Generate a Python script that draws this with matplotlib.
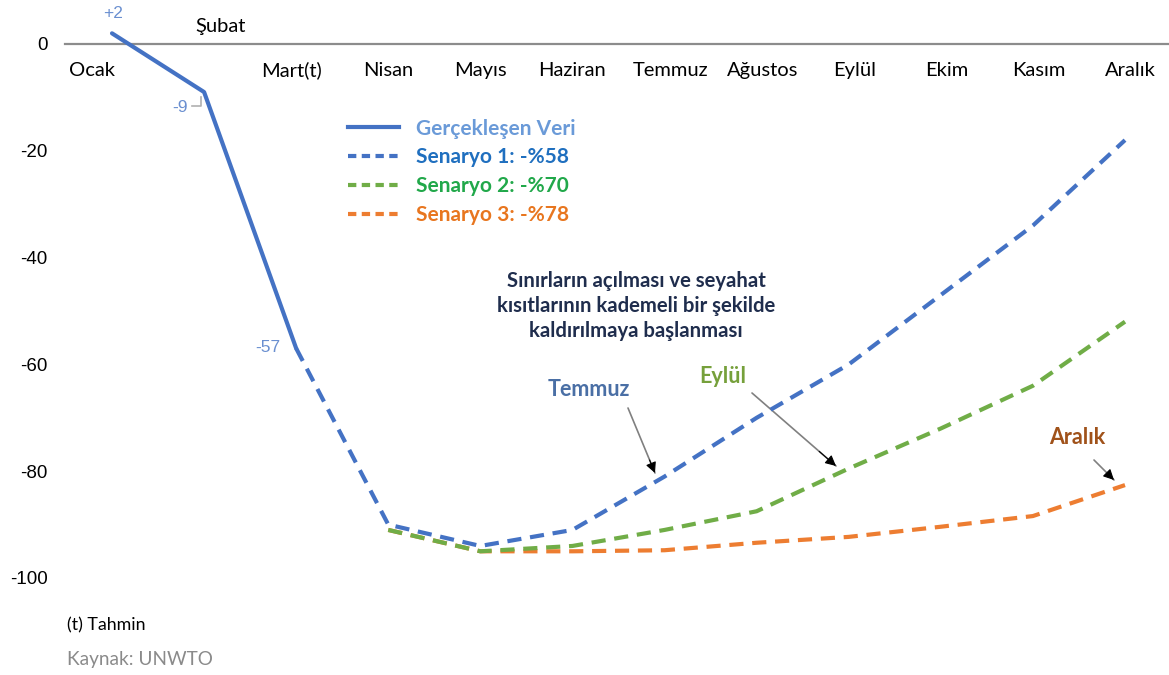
import matplotlib
matplotlib.use("Agg")
import matplotlib.pyplot as plt
from matplotlib.lines import Line2D

months = ["Ocak", "Şubat", "Mart(t)", "Nisan", "Mayıs", "Haziran", "Temmuz",
          "Ağustos", "Eylül", "Ekim", "Kasım", "Aralık"]
actual = [2, -9, -57]
scenario1 = [-57, -90, -94, -91, -81, -70, -60, -47, -34, -18]   # Mart..Aralık
scenario2 = [-91, -95, -94, -91, -87.5, -79.5, -72, -64, -52]     # Nisan..Aralık
scenario3 = [-91, -95, -95, -94.8, -93.4, -92.3, -90.4, -88.4, -82.6]  # Nisan..Aralık
yticks = [0, -20, -40, -60, -80, -100]
legend_labels = ["Gerçekleşen Veri", "Senaryo 1: -%58", "Senaryo 2: -%70", "Senaryo 3: -%78"]

W, H = 1169, 675
fig = plt.figure(figsize=(W / 100, H / 100), dpi=100)
ax_left = 60
ax = fig.add_axes([ax_left / W, 0, 1 - ax_left / W, 1])

px_per_x = (1125 - 112) / 11.0
px_per_y = 5.34
x0_px, y0_px = 112, 44
ax.set_xlim((ax_left - x0_px) / px_per_x, (W - x0_px) / px_per_x)
ax.set_ylim(-(H - y0_px) / px_per_y, y0_px / px_per_y)


def P(x, y):
    """pixel position (from top-left) -> data coords, for annotation placement"""
    return ((x - x0_px) / px_per_x, -(y - y0_px) / px_per_y)


for s in ax.spines.values():
    s.set_visible(False)
ax.set_xticks([])
ax.set_yticks(yticks)
ax.set_yticklabels([str(v) for v in yticks], fontfamily="Liberation Sans", fontsize=13.5)
ax.tick_params(axis="y", length=0, pad=9)

# zero line
ax.plot([P(65, 0)[0], P(W, 0)[0]], [0, 0], color="#8c8c8c", lw=1.6, zorder=1)

blue, green, orange = "#4472C4", "#70AD47", "#ED7D31"
lw = 3.0
dash = (0, (3.4, 2.1))
ax.plot(range(3, 12), scenario3, color=orange, lw=lw, linestyle=dash, zorder=2)
ax.plot(range(3, 12), scenario2, color=green, lw=lw, linestyle=dash, zorder=3)
ax.plot(range(2, 12), scenario1, color=blue, lw=lw, linestyle=dash, zorder=4)
ax.plot(range(0, 3), actual, color=blue, lw=lw, solid_capstyle="round", zorder=5)

# month labels
font = "Lato"
mfs = 14.5
for i, m in enumerate(months):
    if i == 0:
        ax.text(i - 0.22, -4.9, m, ha="center", va="center", fontsize=mfs, family=font)
    elif i == 1:
        ax.text(i + 0.18, 3.3, m, ha="center", va="center", fontsize=mfs, family=font)
    elif i == 2:
        ax.text(i - 0.05, -4.9, m, ha="center", va="center", fontsize=mfs, family=font)
    else:
        ax.text(i + 0.06 * (i >= 6), -4.9, m, ha="center", va="center", fontsize=mfs, family=font)

# data labels
lblc = "#6a8fd0"
dfs = 12.5
ax.text(*P(113, 13), "+2", ha="center", va="center", fontsize=dfs, color=lblc, family="Liberation Sans")
ax.text(*P(180, 108), "-9", ha="center", va="center", fontsize=dfs, color=lblc, family="Liberation Sans")
cx = [P(192, 0)[0], P(201, 0)[0], P(201, 0)[0]]
cy = [P(0, 106)[1], P(0, 106)[1], P(0, 97)[1]]
ax.plot(cx, cy, color="#b0b0b0", lw=1.2)
ax.text(*P(268, 348), "-57", ha="center", va="center", fontsize=dfs, color=lblc, family="Liberation Sans")

# legend
ldash = (0, (2.0, 1.3))
handles = [Line2D([], [], color=blue, lw=lw),
           Line2D([], [], color=blue, lw=lw, linestyle=ldash),
           Line2D([], [], color=green, lw=lw, linestyle=ldash),
           Line2D([], [], color=orange, lw=lw, linestyle=ldash)]
leg = ax.legend(handles, legend_labels, loc="upper left",
                bbox_to_anchor=(333 / W, 1 - 104 / H), bbox_transform=fig.transFigure,
                frameon=False, handlelength=2.45, handletextpad=0.85, labelspacing=0.42,
                borderpad=0.2,
                prop={"family": font, "weight": "bold", "size": 15})
for t, c in zip(leg.get_texts(), ["#6a9ad8", "#1f6fbf", "#21a84a", "#e8761f"]):
    t.set_color(c)

# annotation
afs = 14.6
ax.text(*P(636, 306), "Sınırların açılması ve seyahat\nkısıtlarının kademeli bir şekilde\nkaldırılmaya başlanması",
        ha="center", va="center", fontsize=afs, fontweight="bold", color="#1f2d4d",
        family=font, linespacing=1.3)

lfs = 15.5


def arrow(p0, p1):
    (x0, y0), (x1, y1) = P(*p0), P(*p1)
    ax.annotate("", xy=(x1, y1), xytext=(x0, y0),
                arrowprops=dict(arrowstyle="-", color="#808080", lw=1.2, shrinkA=0, shrinkB=0))
    f = 0.8
    ax.annotate("", xy=(x1, y1), xytext=(x0 + f * (x1 - x0), y0 + f * (y1 - y0)),
                arrowprops=dict(arrowstyle="-|>", color="black", lw=0.8, mutation_scale=16,
                                shrinkA=0, shrinkB=0))


ax.text(*P(589, 390), "Temmuz", ha="center", va="center", fontsize=lfs, fontweight="bold",
        color="#4a6fa5", family=font)
arrow((628, 408), (655, 473))
ax.text(*P(723, 377), "Eylül", ha="center", va="center", fontsize=lfs, fontweight="bold",
        color="#76a03b", family=font)
arrow((752, 393), (836, 466))
ax.text(*P(1077, 438), "Aralık", ha="center", va="center", fontsize=lfs, fontweight="bold",
        color="#a0521a", family=font)
arrow((1094, 460), (1114, 480))

# footnotes
fig.text(67 / W, 1 - 625 / H, "(t) Tahmin", ha="left", va="center", fontsize=12.8, family=font)
fig.text(67 / W, 1 - 660 / H, "Kaynak: UNWTO", ha="left", va="center", fontsize=13.7,
         family=font, color="#8a8a8a")

fig.savefig("out.png", dpi=100)
